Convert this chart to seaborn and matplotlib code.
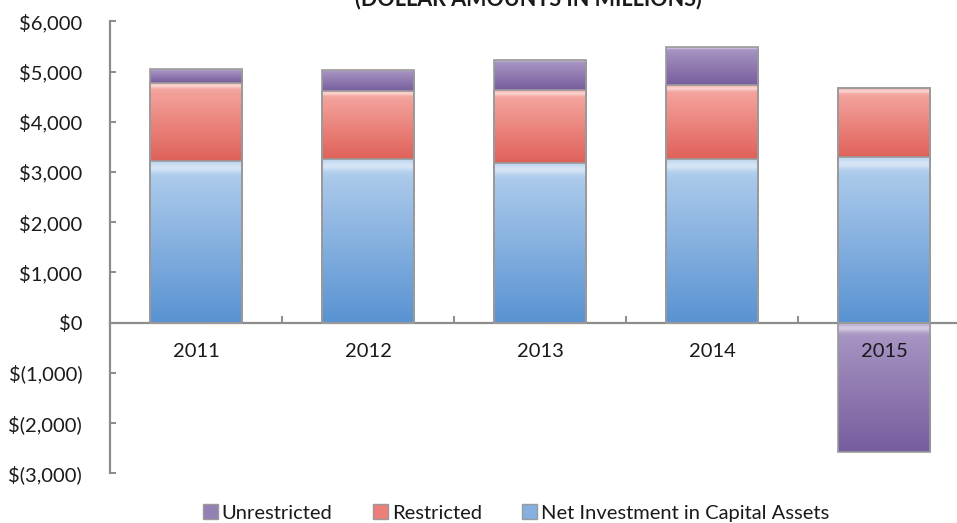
import numpy as np
import pandas as pd
import matplotlib
matplotlib.use("Agg")
import matplotlib.pyplot as plt
import matplotlib.ticker as mticker
from matplotlib.colors import to_rgb
from matplotlib.patches import Patch
import seaborn as sns

years = ["2011", "2012", "2013", "2014", "2015"]
net_investment = [3220, 3250, 3170, 3250, 3305]
restricted = [1560, 1360, 1455, 1475, 1370]
unrestricted = [265, 430, 600, 760, -2590]

c_blue = "#86b0e0"
c_red = "#ec8078"
c_purple = "#9480b4"
c_edge = "#9a9a9a"
c_axis = "#8c8c8c"

# (top, bottom) colours of the glossy gradient on each segment
grad = {
    "blue": ("#b4d0ee", "#5a93d2"),
    "red": ("#f6aaa4", "#df625a"),
    "purple": ("#ab9ac6", "#775d9e"),
}

sns.set_style("white")
plt.rcParams["font.family"] = ["Lato", "DejaVu Sans"]

df = pd.DataFrame({
    "year": years,
    "ni": net_investment,
    "res": restricted,
    "unr": unrestricted,
})
df["top_pos"] = df["ni"] + df["res"] + df["unr"].clip(lower=0)
df["mid"] = df["ni"] + df["res"]
df["neg"] = df["unr"].clip(upper=0)

fig = plt.figure(figsize=(9.57, 5.23), dpi=100)
ax = fig.add_axes([110 / 957, (523 - 473) / 523, 860 / 957, (473 - 21.5) / 523])

bw = 0.54
layers = [("top_pos", c_purple, "purple"), ("mid", c_red, "red"),
          ("ni", c_blue, "blue"), ("neg", c_purple, "purple")]
# stacked bars drawn as layers, top layer first
for col, color, _ in layers:
    sns.barplot(data=df, x="year", y=col, order=years, color=color, width=bw,
                edgecolor=c_edge, linewidth=1.2, saturation=1, ax=ax, errorbar=None)

# visible extent of each segment (bottom, top) per layer
seg = {
    "top_pos": list(zip(df["mid"], df["top_pos"])),
    "mid": list(zip(df["ni"], df["mid"])),
    "ni": list(zip([0] * len(df), df["ni"])),
    "neg": list(zip(df["neg"], [0] * len(df))),
}


def gradient_img(top, bottom, n=64):
    t = np.linspace(0, 1, n)[:, None]
    a, b = np.array(to_rgb(top)), np.array(to_rgb(bottom))
    img = (1 - t) * a + t * b
    # bright gloss band near the top
    hl = np.exp(-((t - 0.04) / 0.03) ** 2) * 0.5
    img = img + (1 - img) * hl
    return img[:, None, :]


patches = list(ax.patches)
n = len(years)
for li, (col, _, gname) in enumerate(layers):
    for i in range(n):
        p = patches[li * n + i]
        lo, hi = seg[col][i]
        if hi - lo <= 0:
            continue
        x0 = p.get_x()
        x1 = x0 + p.get_width()
        im = ax.imshow(gradient_img(*grad[gname]), extent=(x0, x1, lo, hi),
                       aspect="auto", interpolation="bilinear", zorder=2)
        im.set_clip_path(p)
for p in patches:
    p.set_facecolor("none")
    p.set_zorder(3)

ax.set_xlim(-0.5, 4.5)
ax.set_ylim(-3000, 6000)
ax.set_yticks(np.arange(-3000, 6001, 1000))


def money(v, pos):
    if v < 0:
        return "$({:,.0f})".format(-v)
    return "${:,.0f}".format(v)


ax.yaxis.set_major_formatter(mticker.FuncFormatter(money))
ax.set_xlabel("")
ax.set_ylabel("")

for s in ["top", "right"]:
    ax.spines[s].set_visible(False)
ax.spines["left"].set_color(c_axis)
ax.spines["left"].set_linewidth(1.6)
ax.spines["bottom"].set_position(("data", 0))
ax.spines["bottom"].set_color(c_axis)
ax.spines["bottom"].set_linewidth(1.6)
ax.spines["bottom"].set_zorder(1)

ax.tick_params(axis="y", direction="in", length=4, width=1.4, color=c_axis,
               labelsize=14.5, pad=20, labelcolor="#1a1a1a", left=True)
ax.tick_params(axis="x", which="major", length=0, labelsize=14.5, pad=15, labelcolor="#1a1a1a")
ax.xaxis.set_minor_locator(mticker.FixedLocator([0.5, 1.5, 2.5, 3.5]))
ax.tick_params(axis="x", which="minor", direction="in", length=5, width=1.4,
               color=c_axis, bottom=True)
ax.xaxis.set_zorder(5)

fig.text(528 / 957, 1 - 5 / 523, "(DOLLAR AMOUNTS IN MILLIONS)", ha="center",
         va="baseline", fontsize=15.5, fontweight="bold", color="#1a1a1a")

handles = [Patch(facecolor=c_purple, edgecolor=c_edge, label="Unrestricted"),
           Patch(facecolor=c_red, edgecolor=c_edge, label="Restricted"),
           Patch(facecolor=c_blue, edgecolor=c_edge, label="Net Investment in Capital Assets")]
fig.legend(handles=handles, loc="center", bbox_to_anchor=(516 / 957, 1 - 513 / 523),
           ncol=3, frameon=False, fontsize=14.5, handlelength=0.75, handleheight=0.75,
           handletextpad=0.2, columnspacing=2.0, labelcolor="#1a1a1a",
           borderpad=0, borderaxespad=0)

fig.savefig("out.png", dpi=100)
